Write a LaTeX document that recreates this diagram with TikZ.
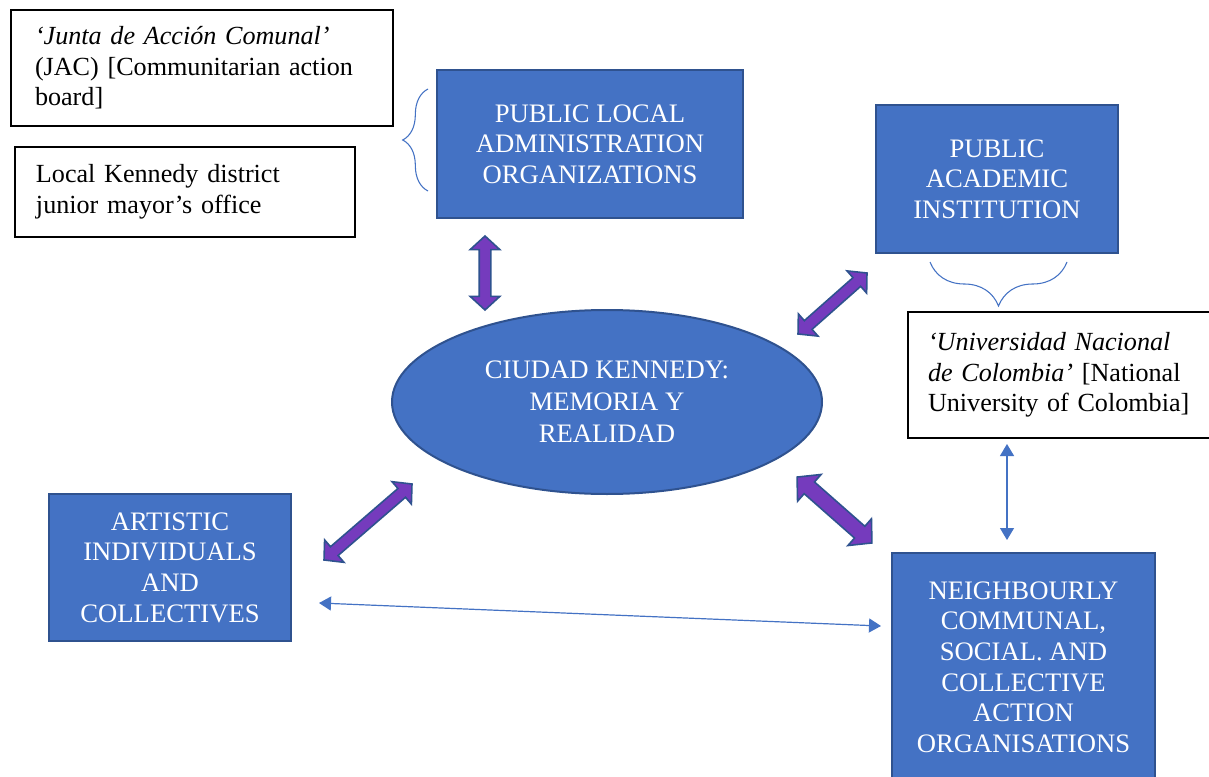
\documentclass[tikz,border=0pt]{standalone}
\usepackage{fontspec}
\setmainfont{Liberation Serif}
\usetikzlibrary{shapes.geometric,shapes.arrows,arrows.meta,decorations.pathreplacing,calc}
\newlength\pxu \setlength\pxu{0.75pt}
\definecolor{boxblue}{HTML}{4472C4}
\definecolor{boxedge}{HTML}{2F528F}
\definecolor{fatpurple}{RGB}{117,59,189}
\begin{document}
\begin{tikzpicture}[x=0.75pt,y=-0.75pt,
  bluebox/.style={rectangle, fill=boxblue, draw=boxedge, line width=1.5pt, text=white, align=center, font=\fontsize{20}{23}\selectfont, inner sep=0pt},
  notebox/.style={rectangle, fill=white, draw=black, line width=0.9pt, align=left, font=\fontsize{19.6}{23}\selectfont, inner ysep=0pt},
  fatarrow/.style={double arrow, fill=fatpurple, draw=boxedge, line width=1.2pt, inner xsep=0pt, inner ysep=5\pxu, double arrow head extend=9\pxu, double arrow tip angle=95, double arrow head indent=0pt},
  thinarrow/.style={draw=boxblue, line width=0.9pt, {Triangle[length=9pt,width=10.5pt]}-{Triangle[length=9pt,width=10.5pt]}},
  bracepath/.style={draw=boxblue, line width=0.8pt, decorate, decoration={brace, amplitude=#1}}
]
\useasboundingbox (0,0) rectangle (1209,777);
\fill[white] (0,0) rectangle (1209,777);

\node[notebox, text width=334\pxu, inner xsep=24\pxu, minimum height=116\pxu] (jac) at (202,68)
  {{\itshape ‘Junta de Acción Comunal’}\\(JAC) [Communitarian action\\board]};
\node[notebox, text width=298\pxu, inner xsep=21\pxu, minimum height=90\pxu] (loc) at (185,192)
  {Local Kennedy district\\junior mayor’s office};
\node[notebox, text width=270\pxu, inner xsep=20\pxu, minimum height=126\pxu] (unc) at (1063,375)
  {{\itshape ‘Universidad Nacional}\\{\itshape de Colombia’} [National\\University of Colombia]};

\node[bluebox, minimum width=306\pxu, minimum height=148\pxu] (pla) at (590,144)
  {PUBLIC LOCAL\\ADMINISTRATION\\ORGANIZATIONS};
\node[bluebox, minimum width=242\pxu, minimum height=148\pxu] (pai) at (997,179)
  {PUBLIC\\ACADEMIC\\INSTITUTION};
\node[bluebox, minimum width=242\pxu, minimum height=147\pxu] (art) at (170,567.5)
  {ARTISTIC\\INDIVIDUALS\\AND\\COLLECTIVES};
\node[bluebox, minimum width=263\pxu, minimum height=228\pxu] (ncs) at (1023.5,667)
  {NEIGHBOURLY\\COMMUNAL,\\SOCIAL. AND\\COLLECTIVE\\ACTION\\ORGANISATIONS};
\node[bluebox, ellipse, minimum width=430\pxu, minimum height=184\pxu, font=\fontsize{20}{24}\selectfont] (ell) at (607,402)
  {CIUDAD KENNEDY:\\MEMORIA Y\\REALIDAD};

% fat arrows
\coordinate (f1a) at (485,236); \coordinate (f1b) at (485,310);
\coordinate (f2a) at (798,334); \coordinate (f2b) at (867,273);
\coordinate (f3a) at (797,477); \coordinate (f3b) at (872,543);
\coordinate (f4a) at (324,560); \coordinate (f4b) at (412,484);
\path let \p1=($(f1b)-(f1a)$), \n1={veclen(\x1,\y1)} in (f1a) -- (f1b) node[fatarrow, midway, sloped, minimum height=\n1]{};
\path let \p1=($(f2b)-(f2a)$), \n1={veclen(\x1,\y1)} in (f2a) -- (f2b) node[fatarrow, midway, sloped, minimum height=\n1]{};
\path let \p1=($(f3b)-(f3a)$), \n1={veclen(\x1,\y1)} in (f3a) -- (f3b) node[fatarrow, midway, sloped, minimum height=\n1, inner ysep=7\pxu, double arrow head extend=10\pxu]{};
\path let \p1=($(f4b)-(f4a)$), \n1={veclen(\x1,\y1)} in (f4a) -- (f4b) node[fatarrow, midway, sloped, minimum height=\n1]{};

% thin arrows
\coordinate (t1a) at (319,603); \coordinate (t1b) at (881,626);
\coordinate (t2a) at (1007,444); \coordinate (t2b) at (1007,540);
\draw[thinarrow] (t1a) -- (t1b);
\draw[thinarrow] (t2a) -- (t2b);

% braces
\coordinate (b1a) at (428,191); \coordinate (b1b) at (428,89);
\coordinate (b2a) at (1067,262); \coordinate (b2b) at (930,262);
\draw[bracepath=19pt] (b1a) -- (b1b);
\draw[bracepath=33pt] (b2a) -- (b2b);
\end{tikzpicture}
\end{document}
